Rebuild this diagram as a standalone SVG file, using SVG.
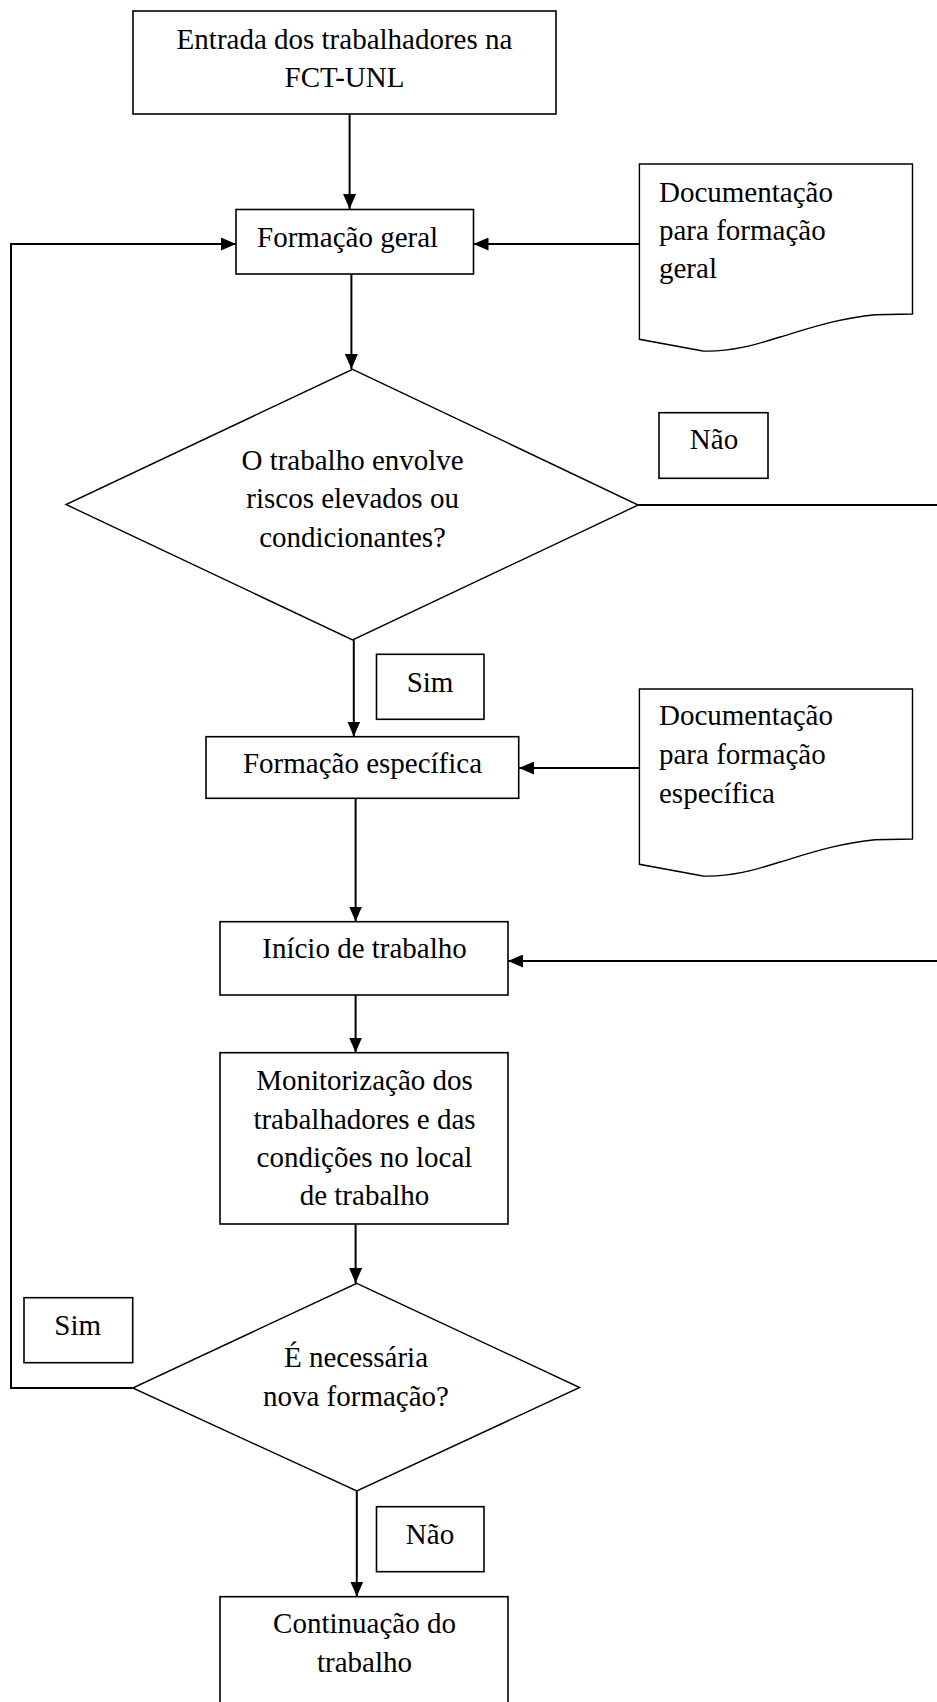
<svg xmlns="http://www.w3.org/2000/svg" width="937" height="1702" viewBox="0 0 937 1702">
<style>
  .box { fill: #fff; stroke: #000; stroke-width: 1.6; }
  .shape { fill: #fff; stroke: #000; stroke-width: 1.4; }
  .conn { fill: none; stroke: #000; stroke-width: 2; }
  text { font-family: "Liberation Serif", "Times New Roman", serif; font-size: 29px; fill: #000; }
  .c { text-anchor: middle; }
</style>
<defs>
  <marker id="arr" markerWidth="15" markerHeight="13" refX="15" refY="6.5" orient="auto" markerUnits="userSpaceOnUse">
    <path d="M0,0 L15,6.5 L0,13 Z" fill="#000"/>
  </marker>
</defs>
<rect width="937" height="1702" fill="#fff"/>

<g id="connectors">
  <path class="conn" d="M349.6,114 V209" marker-end="url(#arr)"/>
  <path class="conn" d="M351.4,274 V369" marker-end="url(#arr)"/>
  <path class="conn" d="M353.8,640 V736.5" marker-end="url(#arr)"/>
  <path class="conn" d="M355.6,798 V921.5" marker-end="url(#arr)"/>
  <path class="conn" d="M355.6,995 V1052.5" marker-end="url(#arr)"/>
  <path class="conn" d="M355.6,1224 V1283" marker-end="url(#arr)"/>
  <path class="conn" d="M356.8,1491 V1596.5" marker-end="url(#arr)"/>
  <path class="conn" d="M132.7,1388 H11 V244 H236" marker-end="url(#arr)"/>
  <path class="conn" d="M639.4,244 H473.5" marker-end="url(#arr)"/>
  <path class="conn" d="M639.4,768 H519" marker-end="url(#arr)"/>
  <path class="conn" d="M638.2,505 H940"/>
  <path class="conn" d="M940,961 H508" marker-end="url(#arr)"/>
</g>

<g id="entrada">
  <rect class="box" x="133" y="11" width="423" height="103"/>
  <text class="c" x="344.5" y="49">Entrada dos trabalhadores na</text>
  <text class="c" x="344.5" y="87">FCT-UNL</text>
</g>

<g id="formacao-geral">
  <rect class="box" x="236" y="209.5" width="237.5" height="64.5"/>
  <text x="257" y="246.5">Formação geral</text>
</g>

<g id="doc-geral">
  <path class="shape" d="M639.4,164 H912.5 V314 L875,314.7 C840,318 810,328 780,337 C755,345 730,352 703,351 L639.4,339.3 Z"/>
  <text x="659" y="201.5">Documentação</text>
  <text x="659" y="240">para formação</text>
  <text x="659" y="278">geral</text>
</g>

<g id="decisao-riscos">
  <path class="shape" d="M352.6,369.3 L638.2,505 L352.6,640 L66,504.5 Z"/>
  <text class="c" x="352.6" y="470">O trabalho envolve</text>
  <text class="c" x="352.6" y="508">riscos elevados ou</text>
  <text class="c" x="352.6" y="546.5">condicionantes?</text>
</g>

<g id="label-nao-1">
  <rect class="box" x="659" y="412.7" width="109" height="65.6"/>
  <text class="c" x="714" y="449">Não</text>
</g>

<g id="label-sim-1">
  <rect class="box" x="376.5" y="654.3" width="107.5" height="65"/>
  <text class="c" x="430" y="691.5">Sim</text>
</g>

<g id="formacao-especifica">
  <rect class="box" x="206" y="736.7" width="312.7" height="61.6"/>
  <text class="c" x="362.5" y="773">Formação específica</text>
</g>

<g id="doc-especifica">
  <path class="shape" transform="translate(0,525)" d="M639.4,164 H912.5 V314 L875,314.7 C840,318 810,328 780,337 C755,345 730,352 703,351 L639.4,339.3 Z"/>
  <text x="659" y="725">Documentação</text>
  <text x="659" y="764">para formação</text>
  <text x="659" y="802.5">específica</text>
</g>

<g id="inicio">
  <rect class="box" x="220" y="921.7" width="288" height="73.3"/>
  <text class="c" x="364.5" y="958.3">Início de trabalho</text>
</g>

<g id="monitorizacao">
  <rect class="box" x="220" y="1052.7" width="288" height="171.3"/>
  <text class="c" x="364.5" y="1090">Monitorização dos</text>
  <text class="c" x="364.5" y="1128.5">trabalhadores e das</text>
  <text class="c" x="364.5" y="1167">condições no local</text>
  <text class="c" x="364.5" y="1205">de trabalho</text>
</g>

<g id="decisao-nova-formacao">
  <path class="shape" d="M356.8,1283.3 L579.7,1387.5 L356.8,1491 L132.7,1388 Z"/>
  <text class="c" x="356" y="1367.3">É necessária</text>
  <text class="c" x="356" y="1406">nova formação?</text>
</g>

<g id="label-sim-2">
  <rect class="box" x="24" y="1297.7" width="108.7" height="65"/>
  <text class="c" x="77.7" y="1335">Sim</text>
</g>

<g id="label-nao-2">
  <rect class="box" x="376.5" y="1506.7" width="107.5" height="65"/>
  <text class="c" x="430" y="1544">Não</text>
</g>

<g id="continuacao">
  <rect class="box" x="220" y="1596.7" width="288" height="120"/>
  <text class="c" x="364.5" y="1633.3">Continuação do</text>
  <text class="c" x="364.5" y="1671.7">trabalho</text>
</g>
</svg>
